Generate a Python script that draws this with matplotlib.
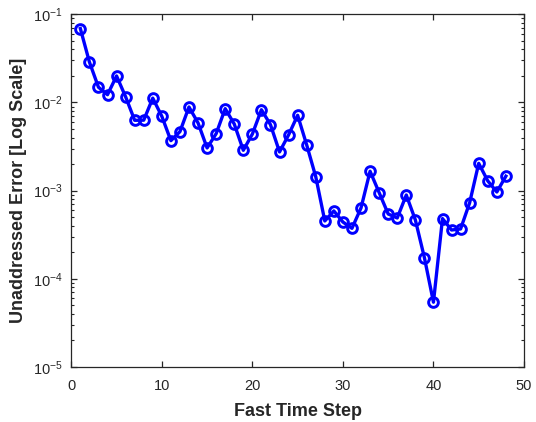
import matplotlib
matplotlib.use("Agg")
import matplotlib.pyplot as plt
from matplotlib.ticker import LogLocator, NullFormatter

plt.rcParams['font.family'] = ['Liberation Sans', 'DejaVu Sans']
plt.rcParams['mathtext.fontset'] = 'custom'
plt.rcParams['mathtext.rm'] = 'Liberation Sans'
plt.rcParams['mathtext.it'] = 'Liberation Sans'

steps = list(range(1, 49))
errors = [
    0.069, 0.0288, 0.0149, 0.01225, 0.020, 0.0116, 0.00628, 0.0063,
    0.0112, 0.00697, 0.00369, 0.00467, 0.00889, 0.00586, 0.00305, 0.00443,
    0.00851, 0.0057, 0.00287, 0.00439, 0.00828, 0.0056, 0.00275, 0.00429,
    0.00716, 0.0033, 0.00144, 0.000453, 0.000589, 0.000441, 0.000374, 0.000637,
    0.00166, 0.000951, 0.000544, 0.00049, 0.000893, 0.000466, 0.000174, 0.0000543,
    0.000482, 0.000358, 0.000368, 0.000731, 0.00204, 0.00129, 0.000966, 0.00146,
]
x_ticks = [0, 10, 20, 30, 40, 50]

dark = (0.15, 0.15, 0.15)

fig = plt.figure(figsize=(5.36, 4.22), dpi=100)
ax = fig.add_axes([0.133, 0.1303, 0.8446, 0.8358])

ax.semilogy(steps, errors, color=(0, 0, 1), linewidth=2.4, marker='o',
            markersize=7, markerfacecolor='none', markeredgewidth=2.1)

ax.set_xlim(0, 50)
ax.set_ylim(1e-5, 1e-1)
ax.set_xticks(x_ticks)
ax.yaxis.set_major_locator(LogLocator(base=10, numticks=10))
ax.yaxis.set_minor_locator(LogLocator(base=10, subs=range(2, 10), numticks=20))
ax.yaxis.set_minor_formatter(NullFormatter())

ax.tick_params(which='both', direction='in', top=True, right=True,
               colors=dark, labelsize=10.5)
ax.tick_params(which='major', length=4.5, width=0.9)
ax.tick_params(which='minor', length=2.5, width=0.8)
ax.tick_params(axis='x', which='both', pad=8.5)
ax.tick_params(axis='y', which='both', pad=6)
for s in ax.spines.values():
    s.set_color(dark)
    s.set_linewidth(0.9)

ax.set_xlabel('Fast Time Step', fontsize=13, fontweight='bold', color=dark)
ax.set_ylabel('Unaddressed Error [Log Scale]', fontsize=13,
              fontweight='bold', color=dark)
ax.xaxis.set_label_coords(0.5, -0.102)
ax.yaxis.set_label_coords(-0.098, 0.5)

fig.savefig('out.png', dpi=100)
